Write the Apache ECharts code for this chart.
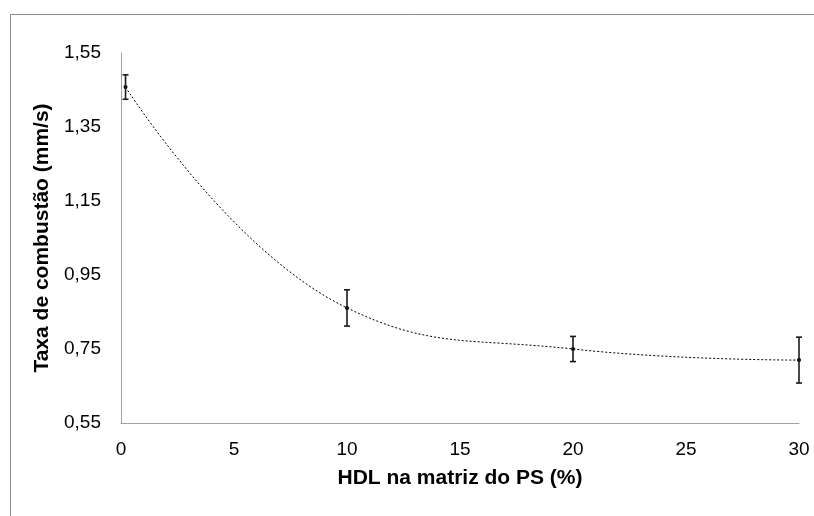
<!DOCTYPE html>
<html>
<head>
<meta charset="utf-8">
<script src="https://cdn.jsdelivr.net/npm/echarts@6/dist/echarts.min.js"></script>
<style>
  html, body { margin: 0; padding: 0; background: #fff; }
  #chart { width: 814px; height: 516px; }
</style>
</head>
<body>
<div id="chart"></div>
<script>
// data
var hdl = [0.2, 10, 20, 30];
var taxa = [1.458, 0.861, 0.750, 0.720];
var erro = [0.033, 0.049, 0.034, 0.062];
var yTicks = ['0,55', '0,75', '0,95', '1,15', '1,35', '1,55'];

var chartDom = document.getElementById('chart');
var myChart = echarts.init(chartDom);

var pontos = hdl.map(function (x, i) { return [x, taxa[i]]; });
var barras = hdl.map(function (x, i) { return [x, taxa[i] - erro[i], taxa[i] + erro[i]]; });

var fonte = '"Liberation Sans", Arial, sans-serif';

var option = {
  animation: false,
  backgroundColor: '#fff',
  graphic: [
    {
      type: 'rect',
      left: 8, top: 12,
      shape: { width: 900, height: 600 },
      style: { fill: 'none', stroke: '#8c8c8c', lineWidth: 1 },
      silent: true
    }
  ],
  grid: { left: 121, right: 15, top: 53, bottom: 93 },
  xAxis: {
    type: 'value',
    min: 0, max: 30, interval: 5,
    name: 'HDL na matriz do PS (%)',
    nameLocation: 'middle',
    nameGap: 45,
    nameTextStyle: { fontFamily: fonte, fontSize: 21, fontWeight: 'bold', color: '#000' },
    axisLine: { lineStyle: { color: '#a0a0a0', width: 1 } },
    axisTick: { show: false },
    splitLine: { show: false },
    axisLabel: { fontFamily: fonte, fontSize: 19, color: '#000', margin: 17 }
  },
  yAxis: {
    type: 'value',
    min: 0.55, max: 1.55, interval: 0.2,
    name: 'Taxa de combustão (mm/s)',
    nameLocation: 'middle',
    nameGap: 58,
    nameTextStyle: { fontFamily: fonte, fontSize: 21, fontWeight: 'bold', color: '#000' },
    axisLine: { show: true, lineStyle: { color: '#a0a0a0', width: 1 } },
    axisTick: { show: false },
    splitLine: { show: false },
    axisLabel: {
      fontFamily: fonte, fontSize: 19, color: '#000', margin: 20,
      formatter: function (v) {
        var i = Math.round((v - 0.55) / 0.2);
        return yTicks[i];
      }
    }
  },
  series: [
    {
      type: 'line',
      data: pontos,
      smooth: 0.45,
      symbol: 'circle',
      symbolSize: 4,
      itemStyle: { color: '#000' },
      lineStyle: { color: '#000', width: 1, type: [2, 2] },
      z: 3
    },
    {
      type: 'custom',
      data: barras,
      renderItem: function (params, api) {
        var x = api.value(0);
        var lo = api.coord([x, api.value(1)]);
        var hi = api.coord([x, api.value(2)]);
        var cap = 3;
        var st = { stroke: '#1a1a1a', lineWidth: 1.6 };
        return {
          type: 'group',
          children: [
            { type: 'line', shape: { x1: lo[0], y1: lo[1], x2: hi[0], y2: hi[1] }, style: st },
            { type: 'line', shape: { x1: lo[0] - cap, y1: lo[1], x2: lo[0] + cap, y2: lo[1] }, style: st },
            { type: 'line', shape: { x1: hi[0] - cap, y1: hi[1], x2: hi[0] + cap, y2: hi[1] }, style: st }
          ]
        };
      },
      z: 4
    }
  ]
};

myChart.setOption(option);
</script>
</body>
</html>
